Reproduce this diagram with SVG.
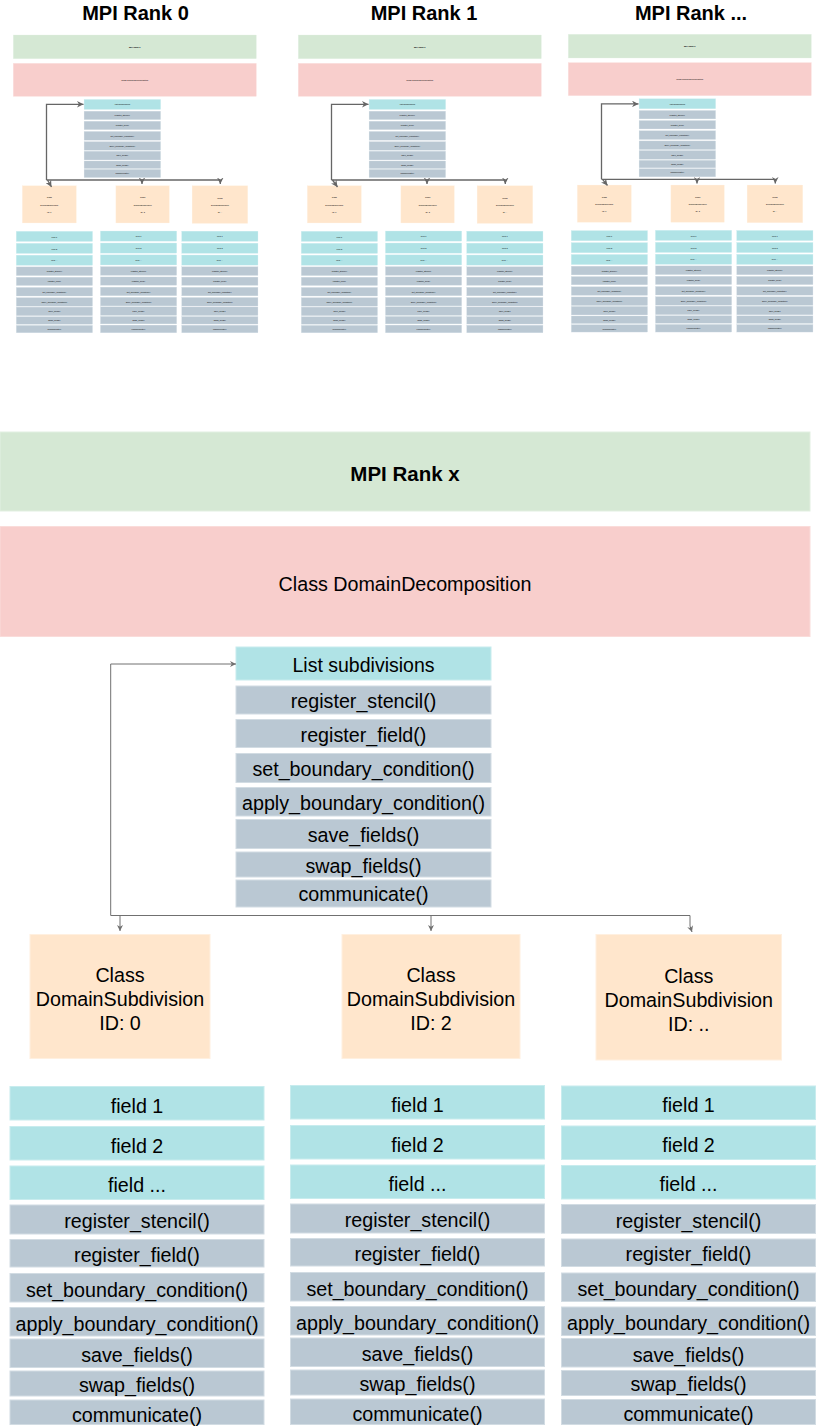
<svg xmlns="http://www.w3.org/2000/svg" width="839" height="1426" viewBox="0 0 839 1426">
<style>
.bg{fill:#ffffff}
.gr{fill:#d5e8d4;stroke:#e2efe1;stroke-width:1}
.rd{fill:#f8cecc;stroke:#fadcda;stroke-width:1}
.cy{fill:#b0e3e6;stroke:#c8ecee;stroke-width:1}
.gy{fill:#bac8d3;stroke:#d2dce3;stroke-width:1}
.pc{fill:#ffe6cc;stroke:#fff0e0;stroke-width:1}
text{font-family:"Liberation Sans",Arial,Helvetica,sans-serif;font-size:var(--fs,19.7px);fill:#000;text-anchor:middle;transform:translateY(var(--ty,0px))}
.b{font-weight:bold;font-size:var(--fb,20.5px)}
.ls{font-size:var(--fs,19.5px)}
.ttl{font-weight:bold;font-size:20px}
.mini{--fs:7px;--fb:7.2px;--ty:-5px}
.ln{fill:none;stroke:#707070;stroke-width:1}
.lm{fill:none;stroke:#666666;stroke-width:1.3}
</style>
<defs>
<marker id="arr" viewBox="0 0 10 10" refX="10" refY="5" markerWidth="6" markerHeight="6" orient="auto" markerUnits="strokeWidth">
<path d="M0,0 L10,5 L0,10 L3,5 z" fill="#707070"/>
</marker>
<marker id="arrm" viewBox="0 0 10 10" refX="10" refY="5" markerWidth="5" markerHeight="5" orient="auto" markerUnits="strokeWidth">
<path d="M0,0 L10,5 L0,10 L3,5 z" fill="#666666"/>
</marker>
</defs>
<rect class="bg" x="0" y="0" width="839" height="1426"/>

<g id="titles">
<text class="ttl" x="135.5" y="20">MPI Rank 0</text>
<text class="ttl" x="424" y="20">MPI Rank 1</text>
<text class="ttl" x="691" y="20">MPI Rank ...</text>
</g>

<g id="rank-x">
<g id="mpi-rank-x"><rect class="gr" x="0" y="432" width="810" height="79"/><text class="b" x="405" y="481">MPI Rank x</text></g>
<g id="domain-decomposition"><rect class="rd" x="0" y="526.5" width="810" height="110"/><text x="405" y="591">Class DomainDecomposition</text></g>
<g id="dd-list"><rect class="cy" x="236" y="647" width="255" height="33"/><text class="ls" x="363.5" y="672">List subdivisions</text></g>
<g id="dd-register-stencil"><rect class="gy" x="236" y="686" width="255" height="28"/><text x="363.5" y="708">register_stencil()</text></g>
<g id="dd-register-field"><rect class="gy" x="236" y="719.5" width="255" height="28"/><text x="363.5" y="741.5">register_field()</text></g>
<g id="dd-set-bc"><rect class="gy" x="236" y="753.5" width="255" height="29"/><text x="363.5" y="776">set_boundary_condition()</text></g>
<g id="dd-apply-bc"><rect class="gy" x="236" y="787.5" width="255" height="28.5"/><text x="363.5" y="810">apply_boundary_condition()</text></g>
<g id="dd-save-fields"><rect class="gy" x="236" y="819.5" width="255" height="29"/><text x="363.5" y="842">save_fields()</text></g>
<g id="dd-swap-fields"><rect class="gy" x="236" y="852" width="255" height="25"/><text x="363.5" y="872.5">swap_fields()</text></g>
<g id="dd-communicate"><rect class="gy" x="236" y="880" width="255" height="27"/><text x="363.5" y="901">communicate()</text></g>

<g id="sub-0"><rect class="pc" x="30" y="934.5" width="180" height="124"/><text x="120" y="982">Class</text><text x="120" y="1006">DomainSubdivision</text><text x="120" y="1030">ID: 0</text></g>
<g id="sub-2"><rect class="pc" x="342" y="934.5" width="178" height="124"/><text x="431" y="982">Class</text><text x="431" y="1006">DomainSubdivision</text><text x="431" y="1030">ID: 2</text></g>
<g id="sub-n"><rect class="pc" x="596" y="934.5" width="185.5" height="125.5"/><text x="688.75" y="983">Class</text><text x="688.75" y="1007">DomainSubdivision</text><text x="688.75" y="1031">ID: ..</text></g>

<g id="col-0">
<g id="c0-field1"><rect class="cy" x="10" y="1086.5" width="254" height="33.5"/><text x="137" y="1112.5">field 1</text></g>
<g id="c0-field2"><rect class="cy" x="10" y="1126.5" width="254" height="33.5"/><text x="137" y="1152.5">field 2</text></g>
<g id="c0-fieldn"><rect class="cy" x="10" y="1166" width="254" height="33.5"/><text x="137" y="1191.5">field ...</text></g>
<g id="c0-register-stencil"><rect class="gy" x="10" y="1205" width="254" height="29"/><text x="137" y="1228">register_stencil()</text></g>
<g id="c0-register-field"><rect class="gy" x="10" y="1239.5" width="254" height="27.5"/><text x="137" y="1261.5">register_field()</text></g>
<g id="c0-set-bc"><rect class="gy" x="10" y="1273.5" width="254" height="28.5"/><text x="137" y="1296.5">set_boundary_condition()</text></g>
<g id="c0-apply-bc"><rect class="gy" x="10" y="1307.5" width="254" height="28.5"/><text x="137" y="1330.5">apply_boundary_condition()</text></g>
<g id="c0-save-fields"><rect class="gy" x="10" y="1339" width="254" height="28.5"/><text x="137" y="1362">save_fields()</text></g>
<g id="c0-swap-fields"><rect class="gy" x="10" y="1371" width="254" height="25"/><text x="137" y="1391.5">swap_fields()</text></g>
<g id="c0-communicate"><rect class="gy" x="10" y="1400" width="254" height="24.5"/><text x="137" y="1421.5">communicate()</text></g>
</g>
<g id="col-2">
<g id="c2-field1"><rect class="cy" x="290.5" y="1085.5" width="254" height="33.5"/><text x="417.5" y="1111.5">field 1</text></g>
<g id="c2-field2"><rect class="cy" x="290.5" y="1125.5" width="254" height="33.5"/><text x="417.5" y="1151.5">field 2</text></g>
<g id="c2-fieldn"><rect class="cy" x="290.5" y="1165" width="254" height="33.5"/><text x="417.5" y="1190.5">field ...</text></g>
<g id="c2-register-stencil"><rect class="gy" x="290.5" y="1204" width="254" height="29"/><text x="417.5" y="1227">register_stencil()</text></g>
<g id="c2-register-field"><rect class="gy" x="290.5" y="1238.5" width="254" height="27.5"/><text x="417.5" y="1260.5">register_field()</text></g>
<g id="c2-set-bc"><rect class="gy" x="290.5" y="1272.5" width="254" height="28.5"/><text x="417.5" y="1295.5">set_boundary_condition()</text></g>
<g id="c2-apply-bc"><rect class="gy" x="290.5" y="1306.5" width="254" height="28.5"/><text x="417.5" y="1329.5">apply_boundary_condition()</text></g>
<g id="c2-save-fields"><rect class="gy" x="290.5" y="1338" width="254" height="28.5"/><text x="417.5" y="1361">save_fields()</text></g>
<g id="c2-swap-fields"><rect class="gy" x="290.5" y="1370" width="254" height="25"/><text x="417.5" y="1390.5">swap_fields()</text></g>
<g id="c2-communicate"><rect class="gy" x="290.5" y="1399" width="254" height="25.5"/><text x="417.5" y="1420.5">communicate()</text></g>
</g>
<g id="col-n">
<g id="cn-field1"><rect class="cy" x="561.5" y="1086" width="254" height="33.5"/><text x="688.5" y="1112">field 1</text></g>
<g id="cn-field2"><rect class="cy" x="561.5" y="1126" width="254" height="33.5"/><text x="688.5" y="1152">field 2</text></g>
<g id="cn-fieldn"><rect class="cy" x="561.5" y="1165.5" width="254" height="33.5"/><text x="688.5" y="1191">field ...</text></g>
<g id="cn-register-stencil"><rect class="gy" x="561.5" y="1204.5" width="254" height="29"/><text x="688.5" y="1227.5">register_stencil()</text></g>
<g id="cn-register-field"><rect class="gy" x="561.5" y="1239" width="254" height="27.5"/><text x="688.5" y="1261">register_field()</text></g>
<g id="cn-set-bc"><rect class="gy" x="561.5" y="1273" width="254" height="28.5"/><text x="688.5" y="1296">set_boundary_condition()</text></g>
<g id="cn-apply-bc"><rect class="gy" x="561.5" y="1307" width="254" height="28.5"/><text x="688.5" y="1330">apply_boundary_condition()</text></g>
<g id="cn-save-fields"><rect class="gy" x="561.5" y="1338.5" width="254" height="28.5"/><text x="688.5" y="1361.5">save_fields()</text></g>
<g id="cn-swap-fields"><rect class="gy" x="561.5" y="1370.5" width="254" height="25"/><text x="688.5" y="1391">swap_fields()</text></g>
<g id="cn-communicate"><rect class="gy" x="561.5" y="1399.5" width="254" height="25"/><text x="688.5" y="1421">communicate()</text></g>
</g>
</g>

<g id="rank-0-mini"><use class="mini" href="#rank-x" transform="translate(13.3,-94.6) scale(0.3)"/></g>
<g id="rank-1-mini"><use class="mini" href="#rank-x" transform="translate(298.3,-94.6) scale(0.3)"/></g>
<g id="rank-n-mini"><use class="mini" href="#rank-x" transform="translate(568.3,-95.3) scale(0.3)"/></g>

<g id="connectors">
<path class="ln" d="M110.7,915.5 V664 H236" marker-end="url(#arr)"/>
<path class="ln" d="M110.7,915.5 H690"/>
<path class="ln" d="M120,915.5 V931" marker-end="url(#arr)"/>
<path class="ln" d="M431,915.5 V931" marker-end="url(#arr)"/>
<path class="ln" d="M690,915.5 V926 L692,932" marker-end="url(#arr)"/>

<path class="lm" d="M46.5,180 V104.3 H83.5" marker-end="url(#arrm)"/>
<path class="lm" d="M46.5,180 H220.3"/>
<path class="lm" d="M47.5,180 L51.5,187" marker-end="url(#arrm)"/>
<path class="lm" d="M142,180 V184" marker-end="url(#arrm)"/>
<path class="lm" d="M220.3,180 V184" marker-end="url(#arrm)"/>

<path class="lm" d="M331.5,180 V104.3 H368.5" marker-end="url(#arrm)"/>
<path class="lm" d="M331.5,180 H505.3"/>
<path class="lm" d="M332.5,180 L337.5,187" marker-end="url(#arrm)"/>
<path class="lm" d="M427,180 V184" marker-end="url(#arrm)"/>
<path class="lm" d="M505.3,180 V184" marker-end="url(#arrm)"/>

<path class="lm" d="M601.5,179.3 V103.9 H638.5" marker-end="url(#arrm)"/>
<path class="lm" d="M601.5,179.3 H775.3"/>
<path class="lm" d="M602.5,179.3 L607.5,185.5" marker-end="url(#arrm)"/>
<path class="lm" d="M697,179.3 V183.5" marker-end="url(#arrm)"/>
<path class="lm" d="M775.3,179.3 V183.5" marker-end="url(#arrm)"/>
</g>
</svg>
